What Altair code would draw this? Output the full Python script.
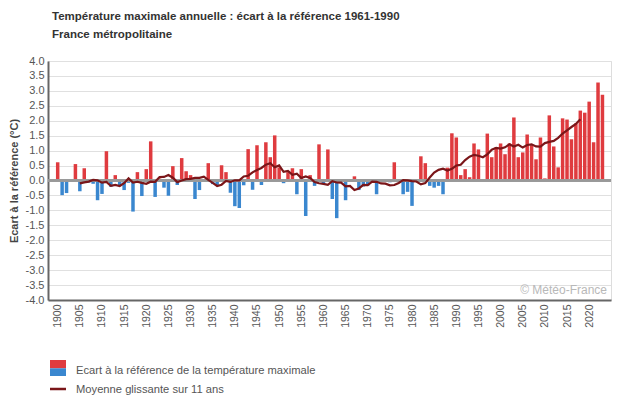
import altair as alt
import pandas as pd

# ---- data ----
years = list(range(1900, 2024))
anomalies = [
    0.61, -0.49, -0.42, -0.05, 0.55, -0.36, 0.41, -0.07, -0.11, -0.66,   # 1900-1909
    -0.45, 0.98, -0.21, 0.18, -0.18, -0.32, -0.08, -1.04, 0.28, -0.52,   # 1910-1919
    0.38, 1.31, -0.55, 0.07, -0.24, -0.51, 0.48, -0.15, 0.75, 0.31,      # 1920-1929
    0.18, -0.62, -0.32, 0.03, 0.58, -0.12, -0.16, 0.51, 0.28, -0.41,     # 1930-1939
    -0.86, -0.92, -0.16, 1.05, -0.31, 1.18, -0.15, 1.28, 0.78, 1.51,     # 1940-1949
    0.44, -0.09, 0.28, 0.41, -0.46, 0.38, -1.19, 0.18, -0.18, 1.21,      # 1950-1959
    -0.09, 1.04, -0.62, -1.26, -0.03, -0.66, 0.04, 0.14, -0.32, -0.20,   # 1960-1969
    -0.17, 0.04, -0.46, -0.05, 0.03, -0.06, 0.61, -0.05, -0.46, -0.38,   # 1970-1979
    -0.85, -0.03, 0.81, 0.58, -0.18, -0.24, -0.18, -0.46, 0.43, 1.58,    # 1980-1989
    1.44, 0.18, 0.38, 0.11, 1.24, 1.04, 0.03, 1.57, 0.78, 1.11,          # 1990-1999
    1.24, 0.88, 1.24, 2.11, 0.78, 0.94, 1.54, 1.18, 0.71, 1.44,          # 2000-2009
    0.07, 2.18, 1.14, 0.44, 2.08, 2.04, 1.38, 1.91, 2.34, 2.27,          # 2010-2019
    2.64, 1.28, 3.28, 2.87,                                              # 2020-2023
]
x_tick_years = [1900, 1905, 1910, 1915, 1920, 1925, 1930, 1935, 1940, 1945,
                1950, 1955, 1960, 1965, 1970, 1975, 1980, 1985, 1990, 1995,
                2000, 2005, 2010, 2015, 2020]
y_ticks = [-4.0, -3.5, -3.0, -2.5, -2.0, -1.5, -1.0, -0.5, 0.0,
           0.5, 1.0, 1.5, 2.0, 2.5, 3.0, 3.5, 4.0]

title_text = "Température maximale annuelle : écart à la référence 1961-1990"
subtitle_text = "France métropolitaine"
y_title = "Ecart à la référence (°C)"
legend_bar_text = "Ecart à la référence de la température maximale"
legend_line_text = "Moyenne glissante sur 11 ans"
watermark_text = "© Météo-France"

RED = "#df3b3f"
BLUE = "#3a87cf"
LINE = "#7a1619"
FONT = "Liberation Sans"

df = pd.DataFrame({"annee": years, "ecart": anomalies})

x_scale = alt.Scale(domain=[1898.94, 2023.8], nice=False, zero=False)
x_axis = alt.Axis(
    values=x_tick_years, format="d", labelAngle=-90, grid=False, ticks=False,
    domainColor="#666666", domainWidth=2, labelColor="#555555",
    labelFont=FONT, labelFontSize=10.5, labelPadding=4, title=None,
    labelOverlap=False,
)
y_scale = alt.Scale(domain=[-4, 4], nice=False)
y_axis = alt.Axis(
    values=y_ticks,
    labelExpr="replace(format(datum.value, '.1f'), '\u2212', '-')",
    grid=True, gridColor="#e0e0e0", gridWidth=1.2, ticks=False,
    domainColor="#666666", domainWidth=2, labelColor="#555555",
    labelFont=FONT, labelFontSize=11, labelPadding=4, labelOverlap=False,
    title=y_title, titleFont=FONT, titleFontSize=11, titleFontWeight="bold",
    titleColor="#444444", titlePadding=6,
)

bars = alt.Chart(df).mark_bar(size=3.5).encode(
    x=alt.X("annee:Q", scale=x_scale, axis=x_axis),
    y=alt.Y("ecart:Q", scale=y_scale, axis=y_axis),
    color=alt.condition("datum.ecart >= 0", alt.value(RED), alt.value(BLUE)),
)

zero_rule = alt.Chart(df).mark_rule(color="#999999", strokeWidth=2).encode(
    y=alt.YDatum(0, scale=y_scale, axis=y_axis)
)

line = (
    alt.Chart(df)
    .transform_window(moy="mean(ecart)", frame=[-5, 5], sort=[{"field": "annee"}])
    .transform_filter("datum.annee >= 1905 && datum.annee <= 2018")
    .mark_line(color=LINE, strokeWidth=2.2)
    .encode(
        x=alt.X("annee:Q", scale=x_scale, axis=x_axis),
        y=alt.Y("moy:Q", scale=y_scale, axis=y_axis),
    )
)

def text_layer(txt, x, y, size, weight="normal", color="#555555", align="left"):
    return alt.Chart(pd.DataFrame({"t": [txt]})).mark_text(
        align=align, baseline="alphabetic", font=FONT, fontSize=size,
        fontWeight=weight, color=color,
    ).encode(x=alt.value(x), y=alt.value(y), text="t:N")

title_l = text_layer(title_text, 4, -41, 11.5, "bold", "#333333")
subtitle_l = text_layer(subtitle_text, 4, -23, 11.5, "bold", "#333333")
watermark_l = text_layer(watermark_text, 559, 233, 12, "normal", "#b8b8b8", "right")
leg_txt1 = text_layer(legend_bar_text, 28, 313, 11.2)
leg_txt2 = text_layer(legend_line_text, 28, 332, 11.2)

one = pd.DataFrame({"k": [0]})
leg_red = alt.Chart(one).mark_rect(color=RED).encode(
    x=alt.value(2), x2=alt.value(18), y=alt.value(299), y2=alt.value(307.3))
leg_blue = alt.Chart(one).mark_rect(color=BLUE).encode(
    x=alt.value(2), x2=alt.value(18), y=alt.value(307.3), y2=alt.value(315))
leg_line = alt.Chart(one).mark_rule(color=LINE, strokeWidth=2.5).encode(
    x=alt.value(2), x2=alt.value(18), y=alt.value(328))

chart = (
    alt.layer(bars, zero_rule, line, title_l, subtitle_l, watermark_l,
              leg_red, leg_blue, leg_line, leg_txt1, leg_txt2)
    .properties(
        width=563, height=239,
        padding={"left": 40, "top": 53, "right": 10, "bottom": 97},
        autosize=alt.AutoSizeParams(type="none"),
        background="white",
    )
    .configure_view(stroke=None)
    .configure(font=FONT)
)

chart.save("out.html", embed_options={"renderer": "svg", "actions": False})
